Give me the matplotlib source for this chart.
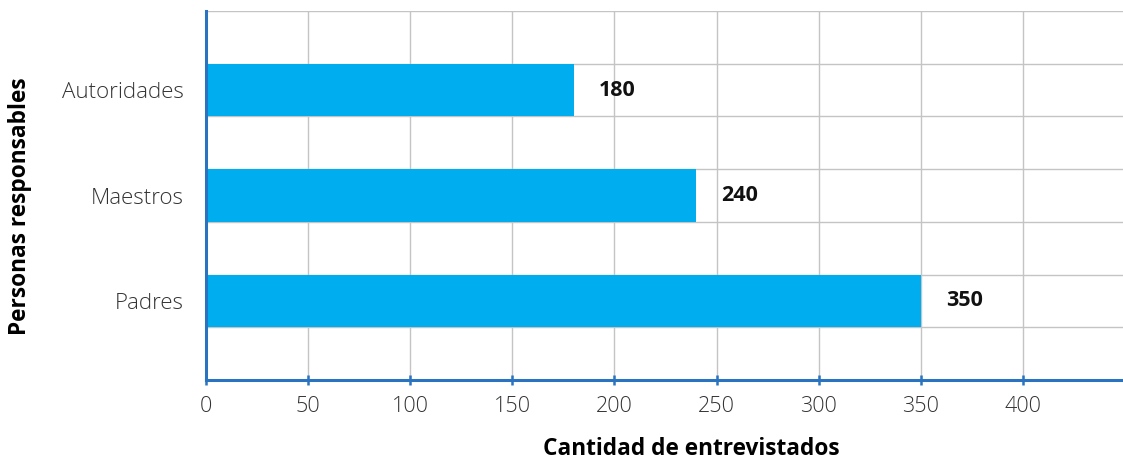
import matplotlib.pyplot as plt

plt.rcParams["font.family"] = ["Open Sans", "DejaVu Sans"]

categorias = ["Padres", "Maestros", "Autoridades"]
valores = [350, 240, 180]
posiciones = [1.5, 3.5, 5.5]
xticks = [0, 50, 100, 150, 200, 250, 300, 350, 400]

azul_barra = "#00AEEF"
azul_eje = "#2a73c0"
gris = "#c4c4c4"

fig = plt.figure(figsize=(11.23, 4.61), dpi=100)
ax = fig.add_axes([206 / 1123, 81 / 461, 917 / 1123, 369 / 461])

ax.barh(posiciones, valores, height=1.0, color=azul_barra, zorder=2)

for y, v in zip(posiciones, valores):
    ax.annotate(str(v), (v, y), xytext=(18, 0), textcoords="offset points",
                ha="left", va="center", fontsize=15.5, fontweight="bold",
                color="#111111")

ax.set_xlim(0, 449)
ax.set_ylim(0, 7)
ax.set_xticks(xticks)
ax.set_xticklabels([str(t) for t in xticks], fontsize=15.5, color="#333333",
                   fontweight="light")
ax.set_yticks(posiciones)
ax.set_yticklabels(categorias, fontsize=16, color="#333333",
                   fontweight="light")

# grid: vertical lines on the x ticks, horizontal lines on every band edge
for x in xticks[1:]:
    ax.axvline(x, color=gris, lw=1, zorder=1)
for y in range(1, 8):
    ax.axhline(y, color=gris, lw=1, zorder=1)

for s in ["top", "right"]:
    ax.spines[s].set_visible(False)
for s in ["left", "bottom"]:
    ax.spines[s].set_color(azul_eje)
    ax.spines[s].set_linewidth(2.2)
    ax.spines[s].set_zorder(3)

ax.tick_params(axis="x", direction="inout", length=7, width=1.8,
               color=azul_eje, pad=8)
ax.tick_params(axis="y", length=0, pad=16)

fig.text(691 / 1123, 1 - 449 / 461, "Cantidad de entrevistados",
         ha="center", va="center", fontsize=16.3, fontweight="bold")
fig.text(20 / 1123, 1 - 206 / 461, "Personas responsables",
         ha="center", va="center", rotation=90, fontsize=16.3,
         fontweight="bold")

plt.savefig("out.png", dpi=100)
